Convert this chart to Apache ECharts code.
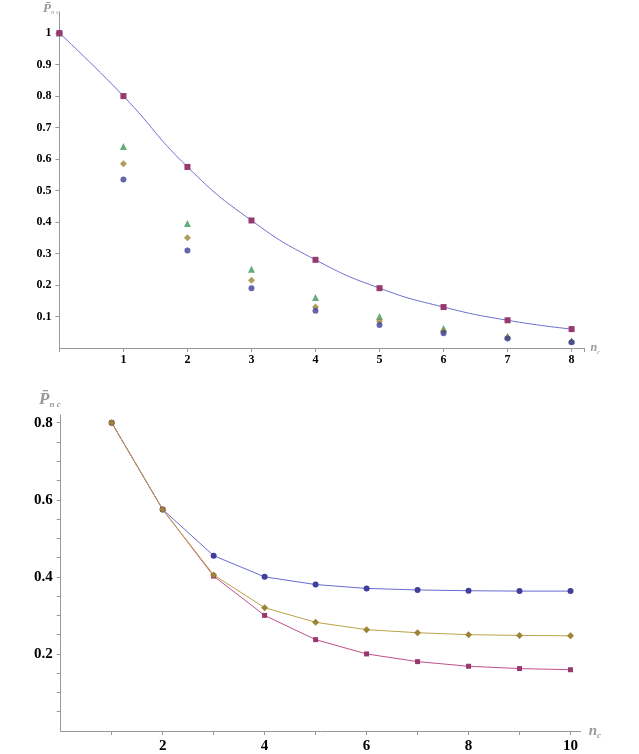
<!DOCTYPE html>
<html lang="en">
<head>
<meta charset="UTF-8">
<title>P nc</title>
<script src="https://cdn.jsdelivr.net/npm/echarts@6/dist/echarts.min.js"></script>
<style>
    body{margin:0;background:#fff;}
    #main{width:639px;height:754px;}
</style>
</head>
<body>
<div id="main"></div>
<script>
    // top chart, x = 0..8
    var topX = [0, 1, 2, 3, 4, 5, 6, 7, 8];
    var topSquares = [1, 0.8, 0.575, 0.405, 0.28, 0.19, 0.13, 0.088, 0.06];
    var topTriangles = [1, 0.64, 0.395, 0.25, 0.16, 0.1, 0.062, 0.037, 0.023];
    var topDiamonds = [1, 0.585, 0.35, 0.215, 0.13, 0.085, 0.053, 0.033, 0.02];
    var topCircles = [1, 0.535, 0.31, 0.19, 0.118, 0.073, 0.047, 0.03, 0.018];
    var topYTicks = [0.1, 0.2, 0.3, 0.4, 0.5, 0.6, 0.7, 0.8, 0.9, 1];

    // bottom chart, x = 1..10
    var botX = [1, 2, 3, 4, 5, 6, 7, 8, 9, 10];
    var botCircles = [0.8, 0.575, 0.455, 0.4, 0.38, 0.37, 0.366, 0.364, 0.363, 0.363];
    var botDiamonds = [0.8, 0.575, 0.405, 0.32, 0.282, 0.263, 0.255, 0.25, 0.248, 0.247];
    var botSquares = [0.8, 0.575, 0.402, 0.3, 0.237, 0.2, 0.18, 0.168, 0.162, 0.159];
    var botYTicks = [0.2, 0.4, 0.6, 0.8];
    var botXTicks = [2, 4, 6, 8, 10];

    var blue = '#3f3f9c', purple = '#97386e', gold = '#9b8433', green = '#3f9a5a';

    function pairs(xs, ys){
        return xs.map(function(x, i){ return [x, ys[i]]; });
    }
    var labelFont = {fontFamily: 'Liberation Serif', fontWeight: 'bold', color: '#000'};
    var tickStyle = {lineStyle: {color: '#999'}, length: 4};
    var myChart = echarts.init(document.getElementById('main'));
    var option = {
        animation: false,
        grid: [
            {left: 59.4, top: 12, width: 525, height: 336},
            {left: 60.7, top: 415, width: 520, height: 320}
        ],
        xAxis: [
            {
                gridIndex: 0, type: 'value', min: 0, max: 8.2, interval: 1,
                axisLine: {lineStyle: {color: '#999'}},
                axisTick: tickStyle, splitLine: {show: false},
                axisLabel: Object.assign({fontSize: 12, margin: 6, formatter: function(v){ return (v === 0 || v > 8) ? '' : v; }}, labelFont),
                name: '{i|n}{s|c}', nameGap: 6,
                nameTextStyle: {rich: {i: {fontFamily: 'Liberation Serif', fontStyle: 'italic', fontWeight: 'bold', fontSize: 12}, s: {fontFamily: 'Liberation Serif', fontStyle: 'italic', fontSize: 7, padding: [8, 0, 0, 0]}}}
            },
            {
                gridIndex: 1, type: 'value', min: 0, max: 10.2,
                axisLine: {lineStyle: {color: '#999'}},
                splitLine: {show: false},
                axisLabel: Object.assign({fontSize: 15, margin: 8, customValues: botXTicks}, labelFont),
                axisTick: {customValues: [1, 2, 3, 4, 5, 6, 7, 8, 9, 10], lineStyle: {color: '#999'}, length: 4},
                name: '{i|n}{s|c}', nameGap: 8,
                nameTextStyle: {rich: {i: {fontFamily: 'Liberation Serif', fontStyle: 'italic', fontWeight: 'bold', fontSize: 15}, s: {fontFamily: 'Liberation Serif', fontStyle: 'italic', fontWeight: 'bold', fontSize: 9, padding: [10, 0, 0, 0]}}}
            }
        ],
        yAxis: [
            {
                gridIndex: 0, type: 'value', min: 0, max: 1.067,
                axisLine: {lineStyle: {color: '#999'}},
                splitLine: {show: false},
                axisLabel: Object.assign({fontSize: 12, customValues: topYTicks}, labelFont),
                axisTick: {customValues: topYTicks, lineStyle: {color: '#999'}, length: 4},
                name: '{i|P̄}{s|n c}', nameLocation: 'end', nameGap: -4,
                nameTextStyle: {align: 'right', padding: [0, 0, 0, 0], rich: {i: {fontFamily: 'Liberation Serif', fontStyle: 'italic', fontWeight: 'bold', fontSize: 13}, s: {fontFamily: 'Liberation Serif', fontStyle: 'italic', fontSize: 7, padding: [8, 0, 0, 0]}}}
            },
            {
                gridIndex: 1, type: 'value', min: 0, max: 0.82,
                axisLine: {lineStyle: {color: '#999'}},
                splitLine: {show: false},
                axisLabel: Object.assign({fontSize: 15, customValues: botYTicks, formatter: function(v){ return v.toFixed(1); }}, labelFont),
                axisTick: {customValues: [0.05, 0.1, 0.15, 0.2, 0.25, 0.3, 0.35, 0.4, 0.45, 0.5, 0.55, 0.6, 0.65, 0.7, 0.75, 0.8], lineStyle: {color: '#999'}, length: 4},
                name: '{i|P̄}{s|n c}', nameLocation: 'end', nameGap: 6,
                nameTextStyle: {align: 'right', padding: [0, 0, 0, 0], rich: {i: {fontFamily: 'Liberation Serif', fontStyle: 'italic', fontWeight: 'bold', fontSize: 17}, s: {fontFamily: 'Liberation Serif', fontStyle: 'italic', fontWeight: 'bold', fontSize: 9, padding: [10, 0, 0, 0]}}}
            }
        ],
        series: [
            {type: 'line', xAxisIndex: 0, yAxisIndex: 0, data: pairs(topX, topSquares), smooth: true, symbol: 'rect', symbolSize: 6, lineStyle: {color: '#6e6ed0', width: 1}, itemStyle: {color: purple}},
            {type: 'scatter', xAxisIndex: 0, yAxisIndex: 0, data: pairs(topX, topTriangles), symbol: 'triangle', symbolSize: 7, itemStyle: {color: green}},
            {type: 'scatter', xAxisIndex: 0, yAxisIndex: 0, data: pairs(topX, topDiamonds), symbol: 'diamond', symbolSize: 7, itemStyle: {color: gold}},
            {type: 'scatter', xAxisIndex: 0, yAxisIndex: 0, data: pairs(topX, topCircles), symbol: 'circle', symbolSize: 6, itemStyle: {color: blue}},
            {type: 'line', xAxisIndex: 1, yAxisIndex: 1, data: pairs(botX, botCircles), symbol: 'circle', symbolSize: 6, lineStyle: {color: '#6a6ad0', width: 1}, itemStyle: {color: blue}},
            {type: 'line', xAxisIndex: 1, yAxisIndex: 1, data: pairs(botX, botSquares), symbol: 'rect', symbolSize: 5, lineStyle: {color: '#c0508a', width: 1}, itemStyle: {color: purple}},
            {type: 'line', xAxisIndex: 1, yAxisIndex: 1, data: pairs(botX, botDiamonds), symbol: 'diamond', symbolSize: 7, lineStyle: {color: '#b8a24a', width: 1}, itemStyle: {color: gold}}
        ]
    };
    myChart.setOption(option);
</script>
</body>
</html>
